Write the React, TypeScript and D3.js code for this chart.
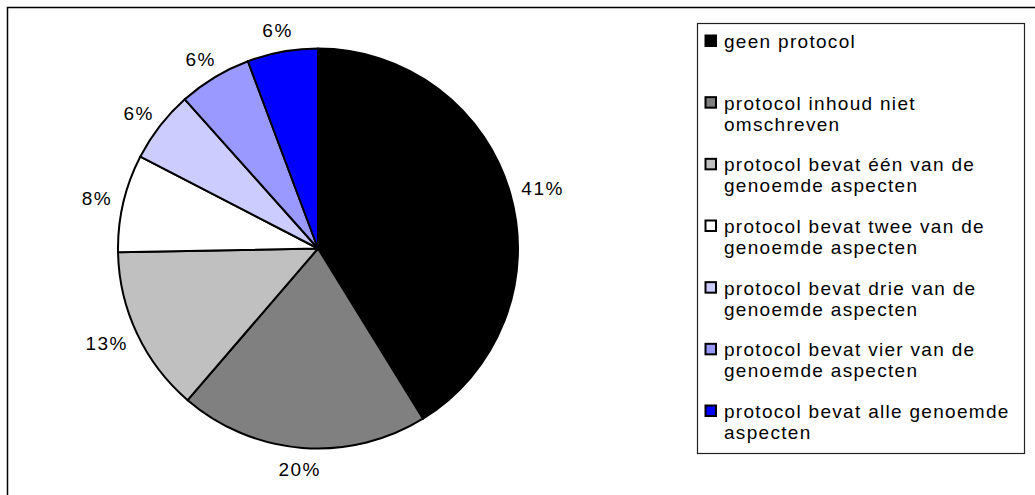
import React from 'react';
import * as d3 from 'd3';

// categories (legend labels, pre-wrapped as in the original legend)
const categories = [
  'geen protocol',
  'protocol inhoud niet omschreven',
  'protocol bevat één van de genoemde aspecten',
  'protocol bevat twee van de genoemde aspecten',
  'protocol bevat drie van de genoemde aspecten',
  'protocol bevat vier van de genoemde aspecten',
  'protocol bevat alle genoemde aspecten',
];
const legendLines = [
  ['geen protocol'],
  ['protocol inhoud niet', 'omschreven'],
  ['protocol bevat één van de', 'genoemde aspecten'],
  ['protocol bevat twee van de', 'genoemde aspecten'],
  ['protocol bevat drie van de', 'genoemde aspecten'],
  ['protocol bevat vier van de', 'genoemde aspecten'],
  ['protocol bevat alle genoemde', 'aspecten'],
];
// share per category in percent
const shares = [41.2, 20.1, 13.4, 7.9, 5.8, 5.9, 5.7];
const colors = ['#000000', '#808080', '#C0C0C0', '#FFFFFF', '#CCCCFF', '#9999FF', '#0000FF'];

const W = 1035;
const H = 495;
const FONT = '"Liberation Sans", Arial, sans-serif';

export default function App() {
  const cx = 318;
  const cy = 248.5;
  const r = 200;
  const labelR = 214;

  const pie = d3.pie<number>().sort(null).value((d) => d).startAngle(0).endAngle(2 * Math.PI);
  const arcs = pie(shares);
  const arc = d3.arc<d3.PieArcDatum<number>>().innerRadius(0).outerRadius(r);
  const total = d3.sum(shares);

  const legendY = d3.scalePoint<string>().domain(categories).range([41, 411]);

  return (
    <svg
      width={W}
      height={H}
      style={{ position: 'absolute', left: 0, top: 0, background: '#fff' }}
      fontFamily={FONT}
    >
      <rect x={7.5} y={7.5} width={1100} height={600} fill="#fff" stroke="#000" strokeWidth={1.5} />

      <g transform={`translate(${cx},${cy})`}>
        {arcs.map((a, i) => (
          <path key={i} d={arc(a) || ''} fill={colors[i]} stroke="#000" strokeWidth={2} strokeLinejoin="round" />
        ))}
        {arcs.map((a, i) => {
          const mid = (a.startAngle + a.endAngle) / 2;
          const s = Math.sin(mid);
          const c = Math.cos(mid);
          const label = `${Math.round((a.value / total) * 100)}%`;
          const w = label.length * 13;
          const h = 15;
          const px = labelR * s + (s * w) / 2;
          const py = -labelR * c - (c * h) / 2;
          return (
            <text
              key={i}
              x={px}
              y={py}
              dy="0.36em"
              textAnchor="middle"
              fontSize={19}
              letterSpacing={1.5}
              fill="#000"
            >
              {label}
            </text>
          );
        })}
      </g>

      <g>
        <rect x={697.5} y={23.5} width={327} height={430} fill="#fff" stroke="#222" strokeWidth={1.2} />
        {categories.map((cat, i) => {
          const y = legendY(cat) as number;
          return (
            <g key={cat}>
              <rect x={705.5} y={y - 5.5} width={10.5} height={10.5} fill={colors[i]} stroke="#000" strokeWidth={2} />
              {legendLines[i].map((ln, j) => (
                <text key={j} x={724} y={y + j * 21} dy="0.36em" fontSize={19} letterSpacing={1.3} fill="#000">
                  {ln}
                </text>
              ))}
            </g>
          );
        })}
      </g>
    </svg>
  );
}
